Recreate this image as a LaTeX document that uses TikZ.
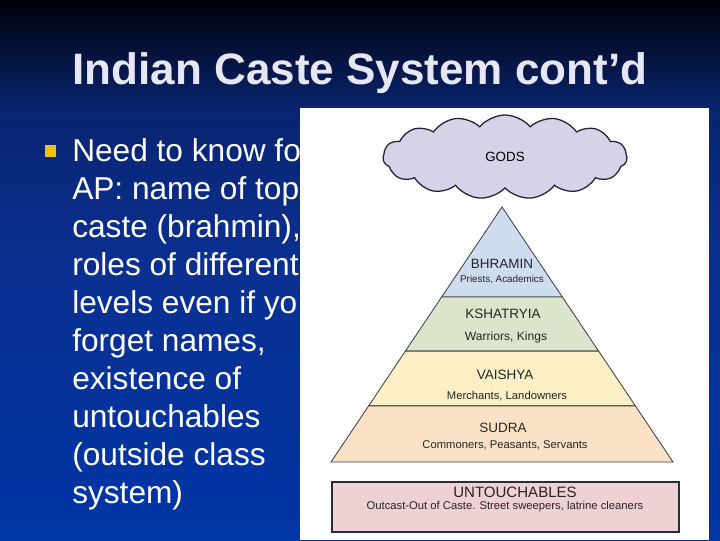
\documentclass[tikz,border=0pt]{standalone}
\usepackage{fontspec}
\setmainfont{Liberation Sans}
\usepackage{tikz}
\usetikzlibrary{positioning,calc,shapes.symbols}
\definecolor{slideTop}{HTML}{00020A}
\definecolor{slideHigh}{HTML}{08246E}
\definecolor{slideMid}{HTML}{0B2F8F}
\definecolor{slideBot}{HTML}{0036A6}
\definecolor{titleGray}{HTML}{E6E6F6}
\definecolor{bulletYellow}{HTML}{F2C200}
\definecolor{cloudFill}{HTML}{D6D2E8}
\definecolor{cloudLine}{HTML}{1F2138}
\definecolor{brahminFill}{HTML}{CDDCEE}
\definecolor{kshatFill}{HTML}{DAE5CB}
\definecolor{vaishFill}{HTML}{FBEFC6}
\definecolor{sudraFill}{HTML}{FBE2C6}
\definecolor{untouchFill}{HTML}{EFD0D3}
\definecolor{boxLine}{HTML}{2A2A38}
% the path covers 25bp..75bp of the shading
\pgfdeclareverticalshading{slidebg}{100bp}{color(0bp)=(slideBot); color(25bp)=(slideBot); color(52bp)=(slideMid); color(65bp)=(slideHigh); color(75bp)=(slideTop); color(100bp)=(slideTop)}

\begin{document}
\begin{tikzpicture}[
  x=0.025cm, y=-0.025cm,
  caste/.style={inner sep=0pt,text=black!85,font=\fontsize{9.6}{11}\selectfont},
  role/.style={inner sep=0pt,text=black!85,font=\fontsize{8}{10}\selectfont},
  layer/.style={draw=black!75,line width=0.6pt},
  bullettext/.style={anchor=base west,inner sep=0pt,text=white,font=\fontsize{22.5}{27}\selectfont}
]
\useasboundingbox (0,0) rectangle (720,540);
\shade[shading=slidebg] (0,0) rectangle (720,540);

% title
\node[anchor=base,inner sep=0pt,text=titleGray,font=\fontsize{31.3}{36}\selectfont\bfseries] (title) at (360,84) {Indian Caste System cont’d};

% bullet point, cut off by the picture
\fill[bulletYellow] (45,145) rectangle (56,157);
\foreach \txt [count=\i from 0] in {Need to know fo, AP: name of top, {caste (brahmin),}, roles of different, levels even if yo, {forget names,}, existence of, untouchables, {(outside class}, {system)}}
  \node[bullettext] (line\i) at (72,161+38*\i) {\txt};

% picture panel
\fill[white] (300,108) rectangle (709,540);

\node[cloud, cloud puffs=15, cloud puff arc=100, aspect=3.1, draw=cloudLine, line width=0.9pt,
      fill=cloudFill, minimum width=6.1cm, minimum height=2.1cm, inner sep=0pt,
      font=\fontsize{9.5}{11}\selectfont] (gods) at (505,157) {GODS};

% pyramid layers
\coordinate (top) at (502,207);
\coordinate (bl) at (331,462);
\coordinate (br) at (673,462);
\coordinate (l1) at ($(top)!0.353!(bl)$);
\coordinate (r1) at ($(top)!0.353!(br)$);
\coordinate (l2) at ($(top)!0.565!(bl)$);
\coordinate (r2) at ($(top)!0.565!(br)$);
\coordinate (l3) at ($(top)!0.780!(bl)$);
\coordinate (r3) at ($(top)!0.780!(br)$);

\filldraw[layer,fill=brahminFill] (top) -- (l1) -- (r1) -- cycle;
\filldraw[layer,fill=kshatFill] (l1) -- (l2) -- (r2) -- (r1) -- cycle;
\filldraw[layer,fill=vaishFill] (l2) -- (l3) -- (r3) -- (r2) -- cycle;
\filldraw[layer,fill=sudraFill] (l3) -- (bl) -- (br) -- (r3) -- cycle;

\node[caste] (bhramin) at (502,264) {BHRAMIN};
\node[role,font=\fontsize{7}{9}\selectfont] (priests) at (502,280) {Priests, Academics};
\node[caste] (kshatryia) at (503,314) {KSHATRYIA};
\node[role,font=\fontsize{8.6}{10}\selectfont] (warriors) at (506,337) {Warriors, Kings};
\node[caste] (vaishya) at (505,375) {VAISHYA};
\node[role] (merchants) at (507,396) {Merchants, Landowners};
\node[caste] (sudra) at (503,428) {SUDRA};
\node[role] (commoners) at (505,445) {Commoners, Peasants, Servants};

% outside the pyramid
\filldraw[draw=boxLine,line width=0.9pt,fill=untouchFill] (332,482) rectangle (679,532);
\node[caste,font=\fontsize{10.7}{12}\selectfont] (untouch) at (515,492) {UNTOUCHABLES};
\node[role] (outcast) at (505,507) {Outcast-Out of Caste. Street sweepers, latrine cleaners};
\end{tikzpicture}
\end{document}
